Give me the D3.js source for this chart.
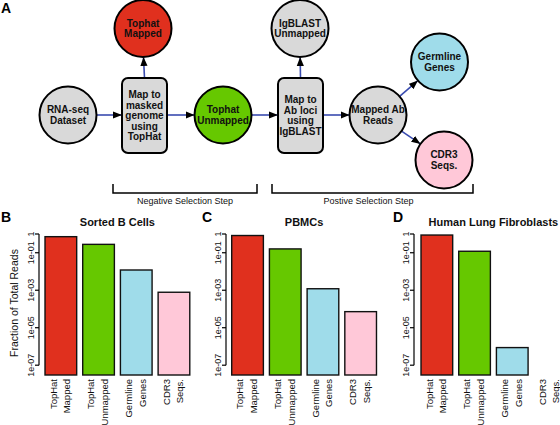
<!DOCTYPE html>
<html><head><meta charset="utf-8">
<script src="https://cdn.jsdelivr.net/npm/d3@7"></script>
<style>body{margin:0;background:#fff}svg{display:block;font-family:"Liberation Sans",Arial,sans-serif}</style>
</head><body><svg id="c" width="560" height="425"></svg>
<script>
// ---- data ----
const categories = ["TopHat\nMapped", "TopHat\nUnmapped", "Germline\nGenes", "CDR3\nSeqs."];
const barColors = ["#e0301e", "#66c800", "#9fdcea", "#ffc8d8"];
const panelTitles = ["Sorted B Cells", "PBMCs", "Human Lung Fibroblasts"];
const panelLetters = ["B", "C", "D"];
const sortedBValues = [0.72, 0.28, 0.012, 7.8e-4];
const pbmcValues = [0.83, 0.16, 1.2e-3, 7.2e-5];
const fibroblastValues = [0.88, 0.12, 8.7e-7, 0];
const tickValues = [1, 1e-1, 1e-3, 1e-5, 1e-7];
const tickLabels = ["1", "1e-01", "1e-03", "1e-05", "1e-07"];
const yLabel = "Fraction of Total Reads";

// flow diagram nodes
const flowNodes = [
  {id:"rna", shape:"circle", lines:["RNA-seq","Dataset"], fill:"#d9d9d9"},
  {id:"map1", shape:"box", lines:["Map to","masked","genome","using","TopHat"], fill:"#d9d9d9"},
  {id:"thm", shape:"circle", lines:["Tophat","Mapped"], fill:"#e0301e"},
  {id:"thu", shape:"circle", lines:["Tophat","Unmapped"], fill:"#66c800"},
  {id:"map2", shape:"box", lines:["Map to","Ab loci","using","IgBLAST"], fill:"#d9d9d9"},
  {id:"igu", shape:"circle", lines:["IgBLAST","Unmapped"], fill:"#d9d9d9"},
  {id:"mab", shape:"circle", lines:["Mapped Ab","Reads"], fill:"#d9d9d9"},
  {id:"germ", shape:"circle", lines:["Germline","Genes"], fill:"#9fdcea"},
  {id:"cdr3", shape:"circle", lines:["CDR3","Seqs."], fill:"#ffc8d8"}
];
const flowLinks = [["rna","map1"],["map1","thm"],["map1","thu"],["thu","map2"],["map2","igu"],["map2","mab"],["mab","germ"],["mab","cdr3"]];
const steps = ["Negative Selection Step", "Postive Selection Step"];

// ---- layout ----
const svg = d3.select("#c");
const pos = {
  rna:{x:68,y:115}, map1:{x:144.5,y:115.5,w:45,h:75}, thm:{x:143,y:28.5},
  thu:{x:223,y:115}, map2:{x:300.5,y:115.5,w:45,h:75}, igu:{x:300,y:28.5},
  mab:{x:378,y:115}, germ:{x:439.5,y:62}, cdr3:{x:444,y:160}
};
const R = 28.5;

svg.append("defs").append("marker").attr("id","ah").attr("viewBox","0 0 10 10")
  .attr("refX",10).attr("refY",5).attr("markerWidth",9).attr("markerHeight",9)
  .attr("markerUnits","userSpaceOnUse").attr("orient","auto")
  .append("path").attr("d","M0,1 L10,5 L0,9 Z").attr("fill","#000");

function edgePoint(id, tx, ty){
  const p = pos[id]; const dx = tx-p.x, dy = ty-p.y; const d = Math.hypot(dx,dy);
  if (p.w){ // box
    const sx = (p.w/2)/Math.abs(dx||1e-9), sy = (p.h/2)/Math.abs(dy||1e-9); const s = Math.min(sx,sy);
    return [p.x+dx*s, p.y+dy*s];
  }
  return [p.x+dx/d*R, p.y+dy/d*R];
}
flowLinks.forEach(([a,b])=>{
  const pa = pos[a], pb = pos[b];
  let ax = pa.x, ay = pa.y, bx = pb.x, by = pb.y;
  const horiz = Math.abs(ay-by)<3;
  if (horiz){ ay = by = 115; }
  if (Math.abs(ax-bx)<3){ ax = bx = pa.x; }
  const s = edgePoint(a, bx, by), e = edgePoint(b, ax, ay);
  svg.append("line").attr("x1",s[0]).attr("y1",horiz?115:s[1])
    .attr("x2",e[0]).attr("y2",horiz?115:e[1])
    .attr("stroke","#3a4cb0").attr("stroke-width",1.6).attr("marker-end","url(#ah)");
});
flowNodes.forEach(n=>{
  const p = pos[n.id];
  if (n.shape==="circle"){
    svg.append("circle").attr("cx",p.x).attr("cy",p.y).attr("r",R)
      .attr("fill",n.fill).attr("stroke","#000").attr("stroke-width",2);
  } else {
    svg.append("rect").attr("x",p.x-p.w/2).attr("y",p.y-p.h/2).attr("width",p.w).attr("height",p.h)
      .attr("rx",6).attr("fill",n.fill).attr("stroke","#000").attr("stroke-width",2);
  }
  const lh = 10.5; const n0 = n.lines.length;
  n.lines.forEach((t,i)=>{
    svg.append("text").attr("x",p.x).attr("y",p.y+(i-(n0-1)/2)*lh).attr("dy","0.35em")
      .attr("text-anchor","middle").attr("font-size",10).attr("font-weight","bold").attr("fill","#111").text(t);
  });
});
// brackets
const brackets = [{x1:113,x2:257},{x1:272,x2:473}];
brackets.forEach((b,i)=>{
  svg.append("path").attr("d",`M${b.x1},184 V193 H${b.x2} V184`).attr("fill","none").attr("stroke","#000").attr("stroke-width",1.5);
  svg.append("text").attr("x",(b.x1+b.x2)/2 - (i?4:0)).attr("y",204).attr("text-anchor","middle")
    .attr("font-size",9).attr("fill","#111").text(steps[i]);
});
svg.append("text").attr("x",1).attr("y",13).attr("font-size",14).attr("font-weight","bold").text("A");

// ---- bar panels ----
const panelValues = [sortedBValues, pbmcValues, fibroblastValues];
const panelX0 = [42, 228.7, 418];
const axisX = [39, 226, 414];
const step = 37.7;
const y = d3.scaleLog().domain([3e-8, 1]).range([375, 234]);

panelValues.forEach((vals,pi)=>{
  const g = svg.append("g");
  const x = d3.scaleBand().domain(categories).range([panelX0[pi], panelX0[pi]+4*step]).paddingInner(0.16).paddingOuter(0.08);
  categories.forEach((c,i)=>{
    const v = vals[i];
    if (v>0){
      g.append("rect").attr("x",x(c)).attr("y",y(v)).attr("width",x.bandwidth()).attr("height",y.range()[0]-y(v))
        .attr("fill",barColors[i]).attr("stroke","#111").attr("stroke-width",1.4);
    }
    const cx = x(c)+x.bandwidth()/2;
    c.split("\n").forEach((t,li)=>{
      const tx = cx + (li===0?-7.5:6);
      g.append("text").attr("transform",`translate(${tx},379) rotate(-90)`).attr("text-anchor","end")
        .attr("dy","0.35em").attr("font-size",9.5).attr("fill","#111").text(t);
    });
  });
  // y axis
  const ax = axisX[pi];
  g.append("line").attr("x1",ax).attr("x2",ax).attr("y1",y(1e-7)).attr("y2",y(1)).attr("stroke","#000").attr("stroke-width",1.2);
  tickValues.forEach((tv,ti)=>{
    g.append("line").attr("x1",ax-4).attr("x2",ax).attr("y1",y(tv)).attr("y2",y(tv)).attr("stroke","#000").attr("stroke-width",1.2);
    g.append("text").attr("transform",`translate(${ax-5.5},${y(tv)}) rotate(-90)`).attr("text-anchor","middle")
      .attr("font-size",9).attr("fill","#111").text(tickLabels[ti]);
  });
  const plotCenter = x.range()[0] + (x.range()[1]-x.range()[0])/2;
  g.append("text").attr("x",plotCenter).attr("y",226).attr("text-anchor","middle").attr("font-size",11)
    .attr("font-weight","bold").attr("fill","#111").text(panelTitles[pi]);
  g.append("text").attr("x",[1,202,393][pi]).attr("y",222).attr("font-size",14).attr("font-weight","bold").text(panelLetters[pi]);
});
svg.append("text").attr("transform","translate(18,303) rotate(-90)").attr("text-anchor","middle")
  .attr("font-size",10.5).attr("fill","#111").text(yLabel);
</script></body></html>
